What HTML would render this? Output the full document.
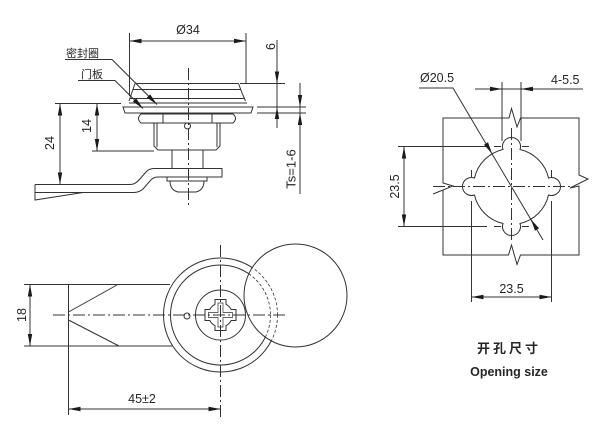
<!DOCTYPE html>
<html><head><meta charset="utf-8"><style>
html,body{margin:0;padding:0;background:#fff;}
svg{display:block;}
text{font-family:"Liberation Sans","Noto Sans CJK SC",sans-serif;fill:#262626;}
</style></head><body>
<svg width="613" height="435" viewBox="0 0 613 435" xmlns="http://www.w3.org/2000/svg">
<defs>
<clipPath id="rc"><circle cx="295.5" cy="295.5" r="51.5"/></clipPath>
</defs>
<rect x="0" y="0" width="613" height="435" fill="#fff"/>

<!-- ===== TOP-LEFT VIEW ===== -->
<g fill="none" stroke="#333" stroke-width="1">
  <path d="M129.5,33 V96 M246,33 V83.5 M129.5,41 H246"/>
  <path d="M240,83.5 H285 M277,40 V128 M257,107 H306 M257,113 H306 M300,83 V194"/>
  <path d="M135,83.5 H238.5 M133,89.5 H241 M135,83.5 L129,101 M238.5,83.5 L242,93 L245.5,101 M130,98.5 H245 M129,103 H247"/>
  <path d="M123,107 H253 L251,113 H125 Z"/>
  <path d="M141,114 H233 Q238,118.5 233,123 H141 Q136,118.5 141,114 Z M163,114 V123 M212,114 V123"/>
  <path d="M154,123 V146 L158,150 H216 L220,146 V123 M157,123 V147 M217,123 V147"/>
  <circle cx="187.5" cy="126" r="3" fill="#fff"/>
  <path d="M172,150 V168.5 M203,150 V168.5"/>
  <path d="M35,184.5 H130 Q135,184.5 139,180 L146,172 Q149,168.5 154,168.5 H222 V177 H158 Q153,177 150,181 L143,189 Q139,192.5 134,192.5 H35"/>
  <path d="M35,184.5 V200 L83,192.5"/>
  <path d="M167,177 H207 V181 H167 Z M170,181 H204 Q204,190 196,192 H178 Q170,190 170,181 Z"/>
  <path d="M55,103.5 H121 M92,151 H154 M60,103.5 V184.5 M97,103.5 V151"/>
  <path d="M65,59.5 H112 L157,104.5 M78,80.5 H115 L143,108.5"/>
  <path d="M188.5,68 V205" stroke-dasharray="12 3 2 3"/>
</g>

<!-- ===== BOTTOM-LEFT VIEW ===== -->
<g fill="none" stroke="#333" stroke-width="1">
  <path d="M24,284.5 H170 M24,346 H172 M68.5,284.5 V415"/>
  <path d="M68.5,312 L117,285 M68.5,320 L119,346"/>
  <circle cx="220.5" cy="315" r="57"/>
  <circle cx="220.5" cy="315" r="50"/>
  <circle cx="220.5" cy="315" r="25"/>
  <circle cx="187" cy="316" r="3"/>
  <path d="M236,309.5 H231.17 A12,12 0 0 0 226,304.33 V299.5 H215 V304.33 A12,12 0 0 0 209.83,309.5 H205 V320.5 H209.83 A12,12 0 0 0 215,325.67 V330.5 H226 V325.67 A12,12 0 0 0 231.17,320.5 H236 Z"/>
  <path d="M232.5,312.5 H223 V303 H218 V312.5 H208.5 V317.5 H218 V327 H223 V317.5 H232.5 Z" stroke-width="0.7"/>
  <circle cx="295.5" cy="295.5" r="51.5" fill="#fff"/>
  <g clip-path="url(#rc)" stroke-dasharray="3 2" stroke-width="0.8">
    <circle cx="220.5" cy="315" r="57"/>
    <circle cx="220.5" cy="315" r="50"/>
  </g>
  <path d="M53,315 H285 M220.5,245 V417" stroke-dasharray="12 3 2 3"/>
  <path d="M30,284.5 V346 M68.5,409 H220.5"/>
</g>

<!-- ===== RIGHT VIEW ===== -->
<g fill="none" stroke="#333" stroke-width="1">
  <path d="M443,118 H509 L511.5,108.5 L517,127 L520.5,118 H579 V175 L588,179 L570,188 L579,186 V255 H520.5 L517,264.5 L511.5,245 L508.5,255 H443 V190 L433,194 L453,186 L443,183 Z"/>
  <path d="M503.01,149.46 A9,9 0 1 1 519.99,149.46 A38,38 0 0 1 548.54,178.01 A9,9 0 1 1 548.54,194.99 A38,38 0 0 1 519.99,223.54 A9,9 0 1 1 503.01,223.54 A38,38 0 0 1 474.46,194.99 A9,9 0 1 1 474.46,178.01 A38,38 0 0 1 503.01,149.46 Z"/>
  <path d="M433,186.5 H570 M511.5,128 V240" stroke-dasharray="12 3 2 3"/>
  <path d="M419,88 H453 L543,240"/>
  <path d="M475,89 H583 M502,82 V141 M521,82 V141"/>
  <path d="M404,146.5 V226.5 M398,146.5 H487 M398,226.5 H487 M494,146.5 H501 M522,146.5 H529 M494,226.5 H501 M522,226.5 H529"/>
  <path d="M471.5,302 V201 M471.5,170 V177 M551.5,302 V201 M551.5,170 V177 M471.5,297 H551.5"/>
</g>

<!-- ===== ARROWS ===== -->
<g fill="#1a1a1a" stroke="none">
  <polygon points="129.5,41 141.5,38.8 141.5,43.2"/>
  <polygon points="246,41 234,38.8 234,43.2"/>
  <polygon points="277,83.5 274.8,71.5 279.2,71.5"/>
  <polygon points="277,107 274.8,119 279.2,119"/>
  <polygon points="300,107 297.8,95 302.2,95"/>
  <polygon points="300,113 297.8,125 302.2,125"/>
  <polygon points="60,103.5 57.8,115.5 62.2,115.5"/>
  <polygon points="60,184.5 57.8,172.5 62.2,172.5"/>
  <polygon points="97,103.5 94.8,115.5 99.2,115.5"/>
  <polygon points="97,151 94.8,139 99.2,139"/>
  <polygon points="157,104.5 146.87,97.63 150.13,94.37"/>
  <polygon points="143,108.5 132.87,101.63 136.13,98.37"/>
  <polygon points="30,284.5 27.8,296.5 32.2,296.5"/>
  <polygon points="30,346 27.8,334 32.2,334"/>
  <polygon points="68.5,409 80.5,406.8 80.5,411.2"/>
  <polygon points="220.5,409 208.5,406.8 208.5,411.2"/>
  <polygon points="492.1,153.8 484,144.7 488,142.3"/>
  <polygon points="530.9,219.2 535,230.7 539,228.3"/>
  <polygon points="502,89 490,86.8 490,91.2"/>
  <polygon points="521,89 533,86.8 533,91.2"/>
  <polygon points="404,146.5 401.8,158.5 406.2,158.5"/>
  <polygon points="404,226.5 401.8,214.5 406.2,214.5"/>
  <polygon points="471.5,297 483.5,294.8 483.5,299.2"/>
  <polygon points="551.5,297 539.5,294.8 539.5,299.2"/>
</g>

<!-- ===== TEXT ===== -->
<g font-size="12.5">
  <text x="188" y="34" text-anchor="middle">Ø34</text>
  <text transform="translate(271,46.5) rotate(-90)" x="0" y="4" text-anchor="middle">6</text>
  <text transform="translate(291,169) rotate(-90)" x="0" y="4.5" text-anchor="middle" font-size="13">Ts=1-6</text>
  <text transform="translate(50,143) rotate(-90)" x="0" y="4" text-anchor="middle">24</text>
  <text transform="translate(87,126) rotate(-90)" x="0" y="4" text-anchor="middle">14</text>
  <text transform="translate(22,315) rotate(-90)" x="0" y="4" text-anchor="middle">18</text>
  <text x="142" y="403" text-anchor="middle">45±2</text>
  <text x="420" y="82">Ø20.5</text>
  <text x="551" y="84">4-5.5</text>
  <text transform="translate(395,186.5) rotate(-90)" x="0" y="4" text-anchor="middle">23.5</text>
  <text x="511.5" y="293" text-anchor="middle">23.5</text>
</g>
<text x="66" y="57" font-size="11" fill="#444">密封圈</text>
<text x="81" y="78" font-size="11" fill="#444">门板</text>
<text x="509" y="353" font-size="13" font-weight="bold" text-anchor="middle" letter-spacing="3" fill="#1a1a1a">开孔尺寸</text>
<text x="509" y="376" font-size="12.5" font-weight="bold" text-anchor="middle" fill="#1a1a1a">Opening size</text>
</svg>
</body></html>
